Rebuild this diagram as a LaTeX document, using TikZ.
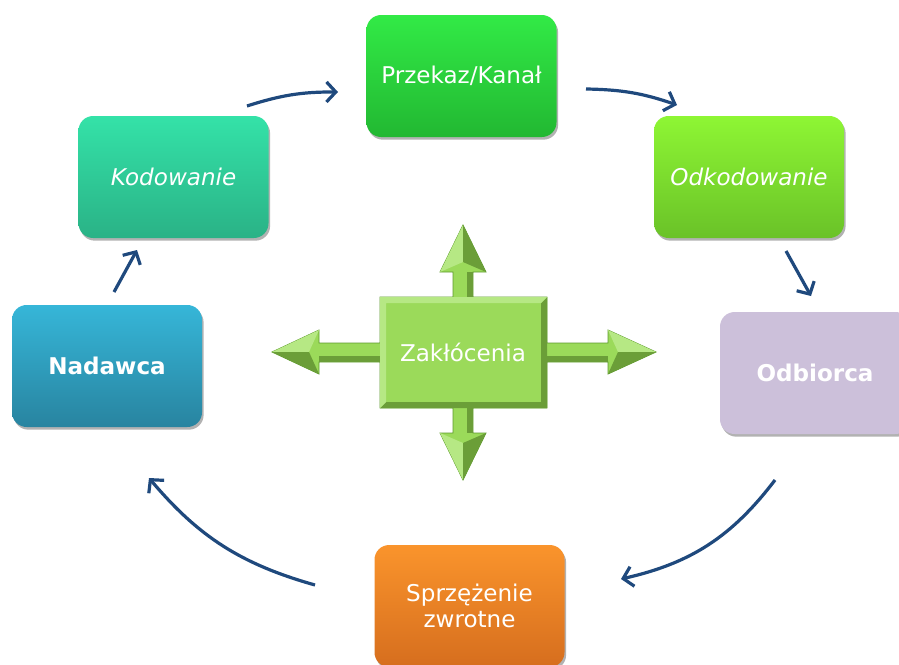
\documentclass[tikz,border=0pt]{standalone}
\usepackage{fontspec}
\setmainfont{DejaVu Sans}
\usetikzlibrary{shadows,arrows.meta}
\definecolor{arrowblue}{HTML}{1F497D}
\definecolor{zakface}{HTML}{9BDA5A}
\definecolor{zakdark}{HTML}{6B9E38}
\definecolor{zaklight}{HTML}{B6E884}
\definecolor{zakedge}{HTML}{5E9A2E}
\begin{document}
\begin{tikzpicture}[x=0.75pt,y=-0.75pt]
\useasboundingbox (0,0) rectangle (899,664);
\tikzset{
  box/.style={rounded corners=11pt, minimum width=142.5pt, minimum height=91.5pt,
    text=white, font=\fontsize{17.3}{19.5}\selectfont, align=center,
    drop shadow={shadow xshift=1.2pt, shadow yshift=-2pt, opacity=0.3, fill=black}},
  conn/.style={draw=arrowblue, line width=2.4pt,
    -{Straight Barb[length=7pt,width=15pt,line width=2.4pt]}},
}
% boxes
\node[box, top color={rgb,255:red,50;green,234;blue,70}, bottom color={rgb,255:red,34;green,184;blue,50}] (prz) at (461.5,76) {Przekaz/Kanał};
\node[box, top color={rgb,255:red,52;green,226;blue,168}, bottom color={rgb,255:red,42;green,178;blue,134}] (kod) at (173.5,177) {\itshape Kodowanie};
\node[box, top color={rgb,255:red,142;green,246;blue,52}, bottom color={rgb,255:red,106;green,194;blue,40}] (odk) at (749,177) {\itshape Odkodowanie};
\node[box, top color={rgb,255:red,54;green,182;blue,216}, bottom color={rgb,255:red,40;green,132;blue,160}] (nad) at (107,366) {\bfseries Nadawca};
\node[box, fill={rgb,255:red,204;green,192;blue,218}] (odb) at (815,373) {\bfseries Odbiorca};
\node[box, top color={rgb,255:red,250;green,148;blue,44}, bottom color={rgb,255:red,214;green,110;blue,30}] (spr) at (469.5,606) {Sprzężenie\\zwrotne};
% connector end points
\coordinate (c1a) at (247,106); \coordinate (c1b) at (338,92);
\coordinate (c2a) at (586,89);  \coordinate (c2b) at (677,105);
\coordinate (c3a) at (786,251); \coordinate (c3b) at (811,296);
\coordinate (c4a) at (775,480); \coordinate (c4b) at (621,579);
\coordinate (c5a) at (315,585); \coordinate (c5b) at (149,478);
\coordinate (c6a) at (114,292); \coordinate (c6b) at (137,250);
\draw[conn] (c1a) to[bend left=9] (c1b);
\draw[conn] (c2a) to[bend left=9] (c2b);
\draw[conn] (c3a) -- (c3b);
\draw[conn] (c4a) to[bend left=20] (c4b);
\draw[conn] (c5a) to[bend left=17] (c5b);
\draw[conn] (c6a) -- (c6b);
% Zakłócenia cross
\fill[zakface, draw=zakedge, line width=0.6pt]
  (463,225) -- (486,272) -- (473,272) -- (473,297) -- (547,297) -- (547,343) -- (608,343)
  -- (608,330) -- (656,352) -- (608,374) -- (608,362) -- (547,362) -- (547,408)
  -- (473,408) -- (473,433) -- (486,433) -- (463,480) -- (440,433) -- (453,433)
  -- (453,408) -- (380,408) -- (380,362) -- (319,362) -- (319,374) -- (272,352)
  -- (319,330) -- (319,343) -- (380,343) -- (380,297) -- (453,297) -- (453,272)
  -- (440,272) -- cycle;
% arrow-head shading
\fill[zaklight] (463,225) -- (440,272) -- (463,262) -- cycle;
\fill[zakdark] (463,225) -- (486,272) -- (463,262) -- cycle;
\fill[zaklight] (656,352) -- (608,330) -- (618,352) -- cycle;
\fill[zakdark] (656,352) -- (608,374) -- (618,352) -- cycle;
\fill[zaklight] (463,480) -- (440,433) -- (463,443) -- cycle;
\fill[zakdark] (463,480) -- (486,433) -- (463,443) -- cycle;
\fill[zaklight] (272,352) -- (319,330) -- (309,352) -- cycle;
\fill[zakdark] (272,352) -- (319,374) -- (309,352) -- cycle;
% shaft shading
\fill[zakdark] (467,272) rectangle (473,297);
\fill[zakdark] (467,408) rectangle (473,433);
\fill[zakdark] (547,356) rectangle (608,362);
\fill[zakdark] (319,356) rectangle (380,362);
% box bevel
\fill[zakdark] (380,408) -- (547,408) -- (547,297) -- (541,303) -- (541,402) -- (386,402) -- cycle;
\fill[zaklight] (380,408) -- (380,297) -- (547,297) -- (541,303) -- (386,303) -- (386,402) -- cycle;
\node[text=white, font=\fontsize{17.3}{19.5}\selectfont] (zak) at (463,352) {Zakłócenia};
\end{tikzpicture}
\end{document}
